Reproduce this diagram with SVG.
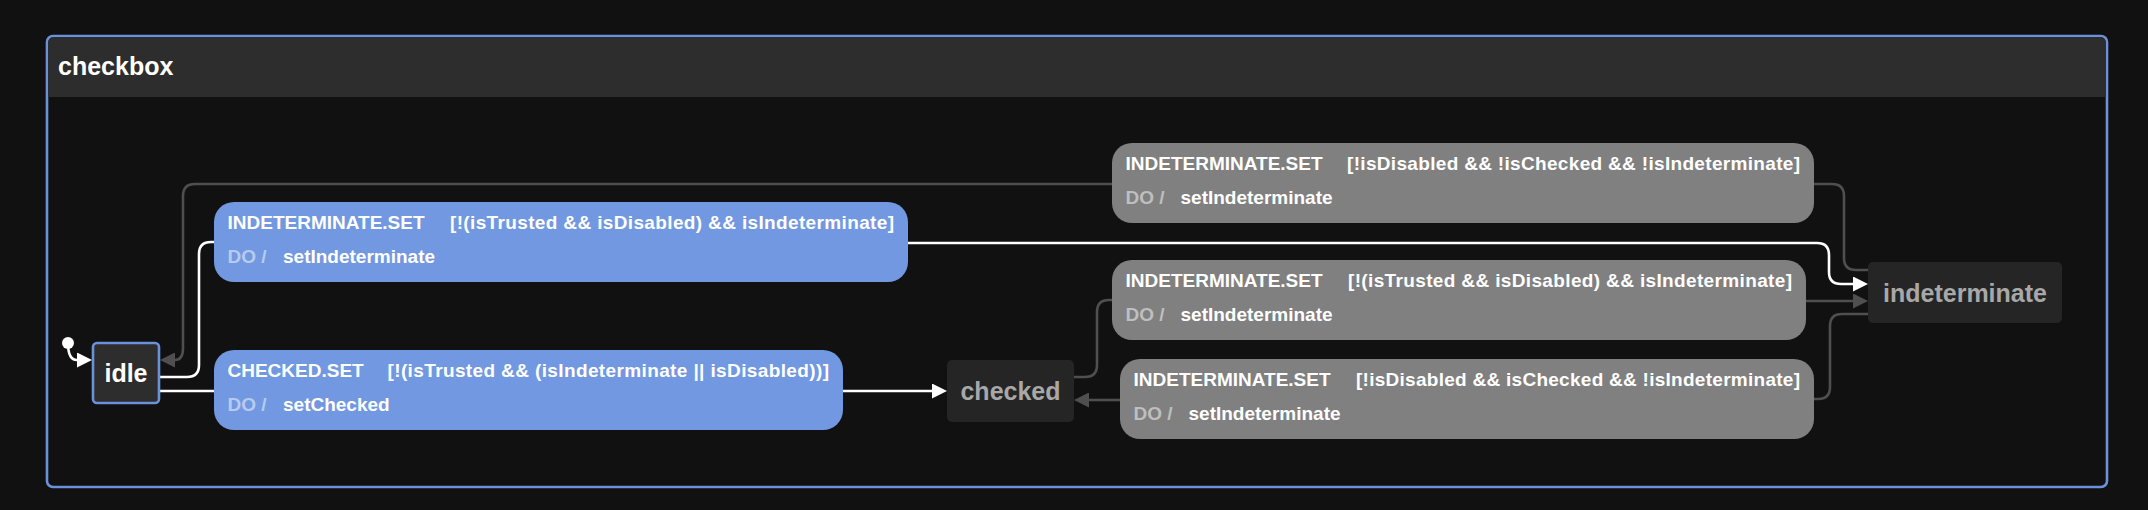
<svg xmlns="http://www.w3.org/2000/svg" width="2148" height="510" viewBox="0 0 2148 510">
<defs>
<style>
.ev{font-family:"Liberation Sans",Arial,sans-serif;font-weight:bold;font-size:19px;fill:#ffffff}
.do{font-family:"Liberation Sans",Arial,sans-serif;font-weight:bold;font-size:19px;fill:#ffffff;fill-opacity:0.5}
.nt{font-family:"Liberation Sans",Arial,sans-serif;font-weight:bold;font-size:25px;text-anchor:middle}
.blue{fill:#7198e0}
.grey{fill:#808080}
.w{fill:none;stroke:#ffffff;stroke-width:2.6}
.g{fill:none;stroke:#4f4f4f;stroke-width:2.6}
</style>
<marker id="aw" viewBox="0 0 15 15" refX="0" refY="7.5" markerWidth="15" markerHeight="15" markerUnits="userSpaceOnUse" orient="auto"><path d="M0,0 L15,7.5 L0,15 z" fill="#ffffff"/></marker>
<marker id="ag" viewBox="0 0 15 15" refX="0" refY="7.5" markerWidth="15" markerHeight="15" markerUnits="userSpaceOnUse" orient="auto"><path d="M0,0 L15,7.5 L0,15 z" fill="#4f4f4f"/></marker>
</defs>
<rect width="2148" height="510" fill="#111111"/>
<g id="checkbox">
<rect x="47" y="36" width="2060" height="451" rx="6" fill="#111111" stroke="#6b91da" stroke-width="2.6"/>
<path d="M48.3,97 V43 Q48.3,37.3 54,37.3 H2100 Q2105.7,37.3 2105.7,43 V97 Z" fill="#2d2d2d"/>
<text x="58" y="75" style="font-family:'Liberation Sans',Arial,sans-serif;font-weight:bold;font-size:25px;fill:#ffffff">checkbox</text>
</g>
<g id="connectors">
<path class="w" d="M68,343 Q68,360 77,360" marker-end="url(#aw)"/>
<path class="w" d="M159,377 H187 Q199,377 199,365 V254 Q199,242 211,242 H214"/>
<path class="w" d="M908,243 H1817 Q1829,243 1829,255 V272 Q1829,284 1841,284 H1853" marker-end="url(#aw)"/>
<path class="w" d="M159,391 H214"/>
<path class="w" d="M843,391 H932" marker-end="url(#aw)"/>
<path class="g" d="M1074,377 H1085 Q1097,377 1097,365 V312 Q1097,300 1109,300 H1112"/>
<path class="g" d="M1806,301 H1853" marker-end="url(#ag)"/>
<path class="g" d="M1868,270 H1856 Q1844,270 1844,258 V196 Q1844,184 1832,184 H1814"/>
<path class="g" d="M1112,184 H195 Q183,184 183,196 V348 Q183,360 175,360" marker-end="url(#ag)"/>
<path class="g" d="M1868,314 H1842 Q1830,314 1830,326 V387 Q1830,399 1818,399 H1814"/>
<path class="g" d="M1120,400 H1089" marker-end="url(#ag)"/>
</g>
<g id="initial"><circle cx="68" cy="343" r="6" fill="#ffffff"/></g>
<g id="idle">
<rect x="93" y="343" width="66" height="60" rx="4" fill="#2d2d2d" stroke="#6b91da" stroke-width="2.6"/>
<text class="nt" x="126" y="382" fill="#ffffff">idle</text>
</g>
<g id="checked">
<rect x="947" y="360" width="127" height="62" rx="5" fill="#252525"/>
<text class="nt" x="1010.5" y="399.5" fill="#a8a8a8">checked</text>
</g>
<g id="indeterminate">
<rect x="1868" y="262" width="194" height="61" rx="5" fill="#252525"/>
<text class="nt" x="1965" y="301.5" fill="#a8a8a8">indeterminate</text>
</g>
<g id="t-idle-indeterminate">
<rect class="blue" x="214" y="202" width="694" height="80" rx="20"/>
<text class="ev" x="227.5" y="229">INDETERMINATE.SET</text>
<text class="ev" x="450" y="229" textLength="444" lengthAdjust="spacing">[!(isTrusted &amp;&amp; isDisabled) &amp;&amp; isIndeterminate]</text>
<text class="do" x="227.5" y="262.5">DO /</text>
<text class="ev" x="283" y="262.5">setIndeterminate</text>
</g>
<g id="t-idle-checked">
<rect class="blue" x="214" y="350" width="629" height="80" rx="20"/>
<text class="ev" x="227.5" y="377">CHECKED.SET</text>
<text class="ev" x="387.5" y="377" textLength="441.5" lengthAdjust="spacing">[!(isTrusted &amp;&amp; (isIndeterminate || isDisabled))]</text>
<text class="do" x="227.5" y="410.5">DO /</text>
<text class="ev" x="283" y="410.5">setChecked</text>
</g>
<g id="t-indeterminate-idle">
<rect class="grey" x="1112" y="143" width="702" height="80" rx="20"/>
<text class="ev" x="1125.5" y="169.5">INDETERMINATE.SET</text>
<text class="ev" x="1347" y="169.5" textLength="453" lengthAdjust="spacing">[!isDisabled &amp;&amp; !isChecked &amp;&amp; !isIndeterminate]</text>
<text class="do" x="1125.5" y="203.5">DO /</text>
<text class="ev" x="1180.5" y="203.5">setIndeterminate</text>
</g>
<g id="t-checked-indeterminate">
<rect class="grey" x="1112" y="260" width="694" height="80" rx="20"/>
<text class="ev" x="1125.5" y="287">INDETERMINATE.SET</text>
<text class="ev" x="1348" y="287" textLength="444" lengthAdjust="spacing">[!(isTrusted &amp;&amp; isDisabled) &amp;&amp; isIndeterminate]</text>
<text class="do" x="1125.5" y="320.5">DO /</text>
<text class="ev" x="1180.5" y="320.5">setIndeterminate</text>
</g>
<g id="t-indeterminate-checked">
<rect class="grey" x="1120" y="359" width="694" height="80" rx="20"/>
<text class="ev" x="1133.5" y="386">INDETERMINATE.SET</text>
<text class="ev" x="1356" y="386" textLength="444" lengthAdjust="spacing">[!isDisabled &amp;&amp; isChecked &amp;&amp; !isIndeterminate]</text>
<text class="do" x="1133.5" y="419.5">DO /</text>
<text class="ev" x="1188.5" y="419.5">setIndeterminate</text>
</g>
</svg>
